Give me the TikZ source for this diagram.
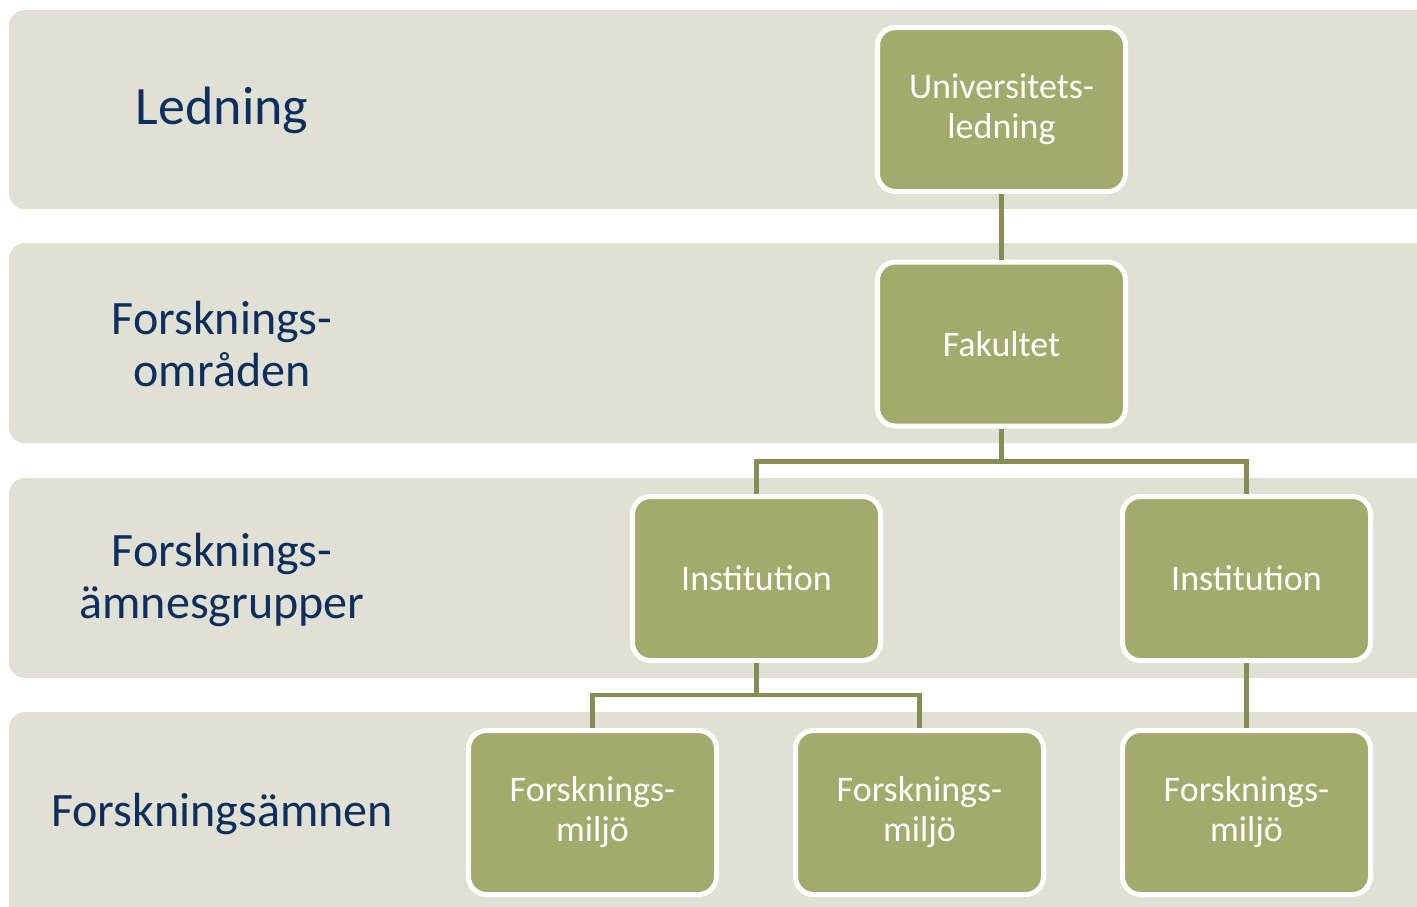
\documentclass[tikz,border=0pt]{standalone}
\usepackage{fontspec}
\setmainfont{Carlito}
\definecolor{bandc}{HTML}{E0E0D4}
\definecolor{boxc}{HTML}{A4A96C}
\definecolor{linec}{HTML}{878D55}
\definecolor{navy}{HTML}{0E2F5E}
\tikzset{
  band/.style={fill=bandc, rounded corners=16pt},
  orgbox/.style={draw=white, line width=5pt, fill=boxc, rounded corners=18pt,
    minimum width=248pt, minimum height=164pt, text=white, align=center,
    font=\fontsize{36}{40}\selectfont},
  lvl/.style={text=navy, align=center, font=\fontsize{48}{52}\selectfont},
  conn/.style={draw=linec, line width=4.5pt}
}
\begin{document}
\begin{tikzpicture}[x=1pt,y=-1pt]
\useasboundingbox (0,0) rectangle (1417,906);
\clip (0,0) rectangle (1417,906);
\fill[white] (0,0) rectangle (1417,906);
% bands
\fill[band] (9,10) rectangle (1450,209);
\fill[band] (9,243) rectangle (1450,443);
\fill[band] (9,478) rectangle (1450,678);
\fill[band] (9,712) rectangle (1450,940);
% level labels
\node[lvl, font=\fontsize{54}{58}\selectfont] (l1) at (222,110) {Ledning};
\node[lvl] (l2) at (222,344) {Forsknings-\\områden};
\node[lvl] (l3) at (222,580) {Forsknings-\\ämnesgrupper};
\node[lvl] (l4) at (222,814) {Forskningsämnen};
% boxes
\node[orgbox] (univ) at (1001.5,109.5) {Universitets-\\ledning};
\node[orgbox] (fak) at (1001.5,344) {Fakultet};
\node[orgbox] (inst1) at (756.5,578.5) {Institution};
\node[orgbox] (inst2) at (1246.5,578.5) {Institution};
\node[orgbox] (m1) at (592.5,812.5) {Forsknings-\\miljö};
\node[orgbox] (m2) at (919.5,812.5) {Forsknings-\\miljö};
\node[orgbox] (m3) at (1246.5,812.5) {Forsknings-\\miljö};
% connectors
\draw[conn] (univ.south) -- (fak.north);
\draw[conn] (fak.south) -- ++(0,33) -| (inst1.north);
\draw[conn] (fak.south) -- ++(0,33) -| (inst2.north);
\draw[conn] (inst1.south) -- ++(0,32) -| (m1.north);
\draw[conn] (inst1.south) -- ++(0,32) -| (m2.north);
\draw[conn] (inst2.south) -- (m3.north);
\end{tikzpicture}
\end{document}
